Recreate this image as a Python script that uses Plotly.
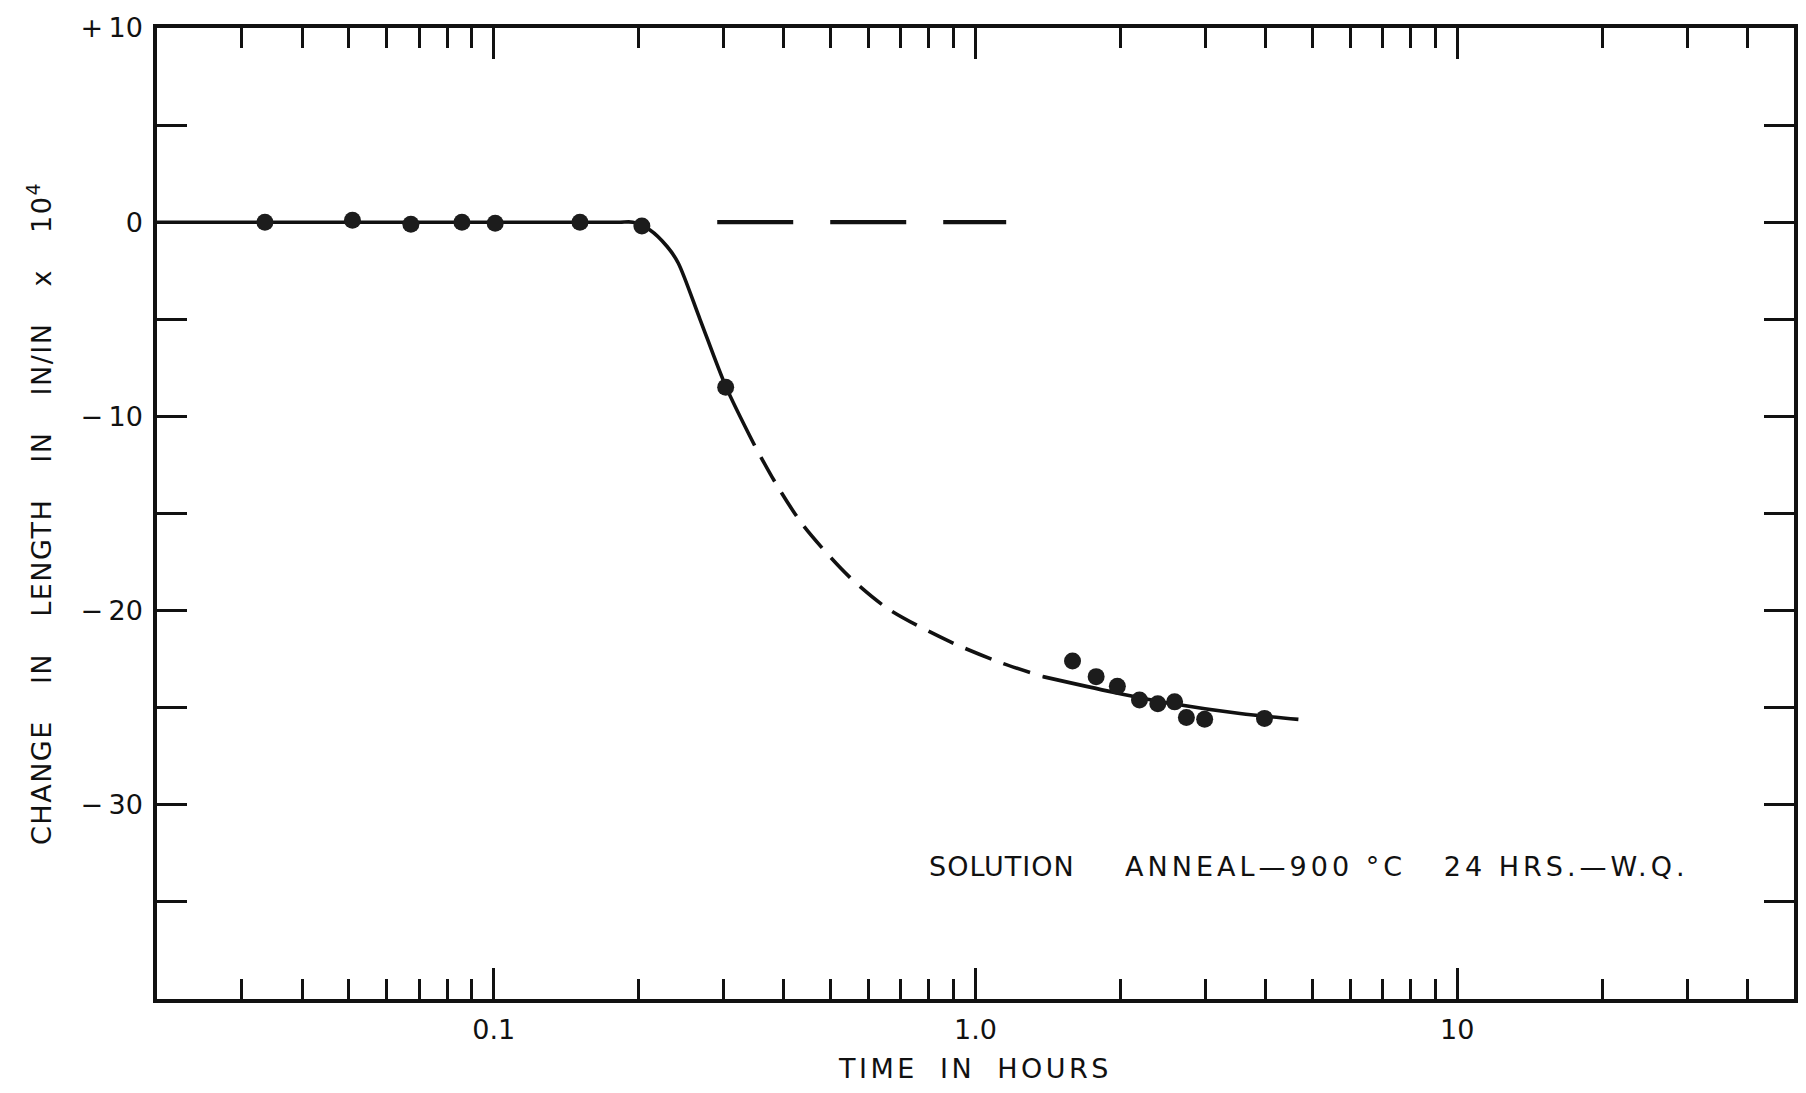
import math
import plotly.graph_objects as go

# Dilatometer readings: time in hours vs change in length (in/in x 10^4)
time_h = [0.0335, 0.0509, 0.0673, 0.0859, 0.1007, 0.151, 0.203, 0.303,
          1.59, 1.78, 1.97, 2.19, 2.39, 2.59, 2.74, 2.99, 3.98]
dl = [0.0, 0.1, -0.1, 0.0, -0.05, 0.0, -0.2, -8.5,
      -22.6, -23.4, -23.9, -24.6, -24.8, -24.7, -25.5, -25.6, -25.55]

# Faired curve: solid where measured, dashed across the gap in the data
curve1_t = [0.02, 0.166, 0.183, 0.1945, 0.211, 0.229, 0.2415, 0.268, 0.303, 0.348]
curve1_v = [0, 0, 0, 0, -0.4, -1.25, -2.1, -5.0, -8.44, -11.5]
curve2_t = [0.348, 0.384, 0.4385, 0.544, 0.658, 0.885, 1.134, 1.38]
curve2_v = [-11.5, -13.4, -15.6, -18.2, -19.9, -21.6, -22.7, -23.4]
curve3_t = [1.38, 1.93, 2.57, 3.54, 4.68]
curve3_v = [-23.4, -24.2, -24.8, -25.3, -25.6]

# Extension of the initial length (zero change)
base_t = [0.291, 1.158]
base_v = [0, 0]

x_major = [0.1, 1, 10]
x_major_text = ["0.1", "1.0", "10"]
x_minor = [0.03, 0.04, 0.05, 0.06, 0.07, 0.08, 0.09,
           0.2, 0.3, 0.4, 0.5, 0.6, 0.7, 0.8, 0.9,
           2, 3, 4, 5, 6, 7, 8, 9, 20, 30, 40]
y_major = [-30, -20, -10, 0, 10]
y_major_text = ["\u2212\u200930", "\u2212\u200920", "\u2212\u200910", "0", "+\u200910"]
y_minor = [-35, -25, -15, -5, 5]

FONT = "DejaVu Sans"
INK = "#111111"
LINE_W = 3.6
NB = "\u00a0"

fig = go.Figure()

fig.add_trace(go.Scatter(x=curve1_t, y=curve1_v, mode="lines",
                         line=dict(color=INK, width=LINE_W, shape="spline", smoothing=0.8),
                         hoverinfo="skip"))
fig.add_trace(go.Scatter(x=curve2_t, y=curve2_v, mode="lines",
                         line=dict(color=INK, width=LINE_W, shape="spline", smoothing=0.8,
                                   dash="0px,13px,28px,0px"),
                         hoverinfo="skip"))
fig.add_trace(go.Scatter(x=curve3_t, y=curve3_v, mode="lines",
                         line=dict(color=INK, width=LINE_W, shape="spline", smoothing=0.8),
                         hoverinfo="skip"))
fig.add_trace(go.Scatter(x=base_t, y=base_v, mode="lines",
                         line=dict(color=INK, width=4.2, dash="76px,37px"),
                         hoverinfo="skip"))
fig.add_trace(go.Scatter(x=time_h, y=dl, mode="markers",
                         marker=dict(size=17, color="#1c1c1c", line=dict(width=0)),
                         name="measured"))

fig.update_xaxes(
    type="log",
    range=[math.log10(0.02), math.log10(50)],
    tickmode="array", tickvals=x_major, ticktext=x_major_text,
    ticks="inside", ticklen=31, tickwidth=3, tickcolor=INK,
    minor=dict(tickmode="array", tickvals=x_minor, ticks="inside",
               ticklen=20, tickwidth=3, tickcolor=INK, showgrid=False),
    showline=True, linewidth=3.5, linecolor=INK, mirror="ticks",
    showgrid=False, zeroline=False,
    tickfont=dict(family=FONT, size=27, color=INK),
    ticklabelstandoff=4,
    title=dict(text="<span style='letter-spacing:3.5px;word-spacing:10px'>TIME IN HOURS</span>",
               font=dict(family=FONT, size=27, color=INK), standoff=16),
    automargin=False,
)
fig.update_yaxes(
    range=[-40, 10],
    tickmode="array", tickvals=y_major, ticktext=y_major_text,
    ticks="inside", ticklen=30, tickwidth=3, tickcolor=INK,
    minor=dict(tickmode="array", tickvals=y_minor, ticks="inside",
               ticklen=30, tickwidth=3, tickcolor=INK, showgrid=False),
    showline=True, linewidth=3.5, linecolor=INK, mirror="ticks",
    showgrid=False, zeroline=False,
    tickfont=dict(family=FONT, size=27, color=INK),
    ticklabelstandoff=5,
    title=dict(text="<span style='letter-spacing:1.5px;word-spacing:26px'>CHANGE IN LENGTH IN IN/IN x 10<sup>4</sup></span>",
               font=dict(family=FONT, size=27, color=INK), standoff=22),
    automargin=False,
)

note_a = "SOLUTION"
note_b = (NB * 4 + "ANNEAL\u2014900" + NB + "\u00b0C" + NB * 3
          + "24" + NB + "HRS.\u2014W.Q.")
fig.add_annotation(
    xref="paper", yref="paper", x=0.4704, y=0.136,
    xanchor="left", yanchor="middle", showarrow=False,
    text=("<span style='letter-spacing:1px'>" + note_a + "</span>"
          + "<span style='letter-spacing:4px'>" + note_b + "</span>"),
    font=dict(family=FONT, size=27, color=INK),
)

fig.update_layout(
    width=1806, height=1093,
    margin=dict(l=157, r=12, t=28, b=94),
    paper_bgcolor="white", plot_bgcolor="white",
    showlegend=False,
)

fig.write_html("out.html")
